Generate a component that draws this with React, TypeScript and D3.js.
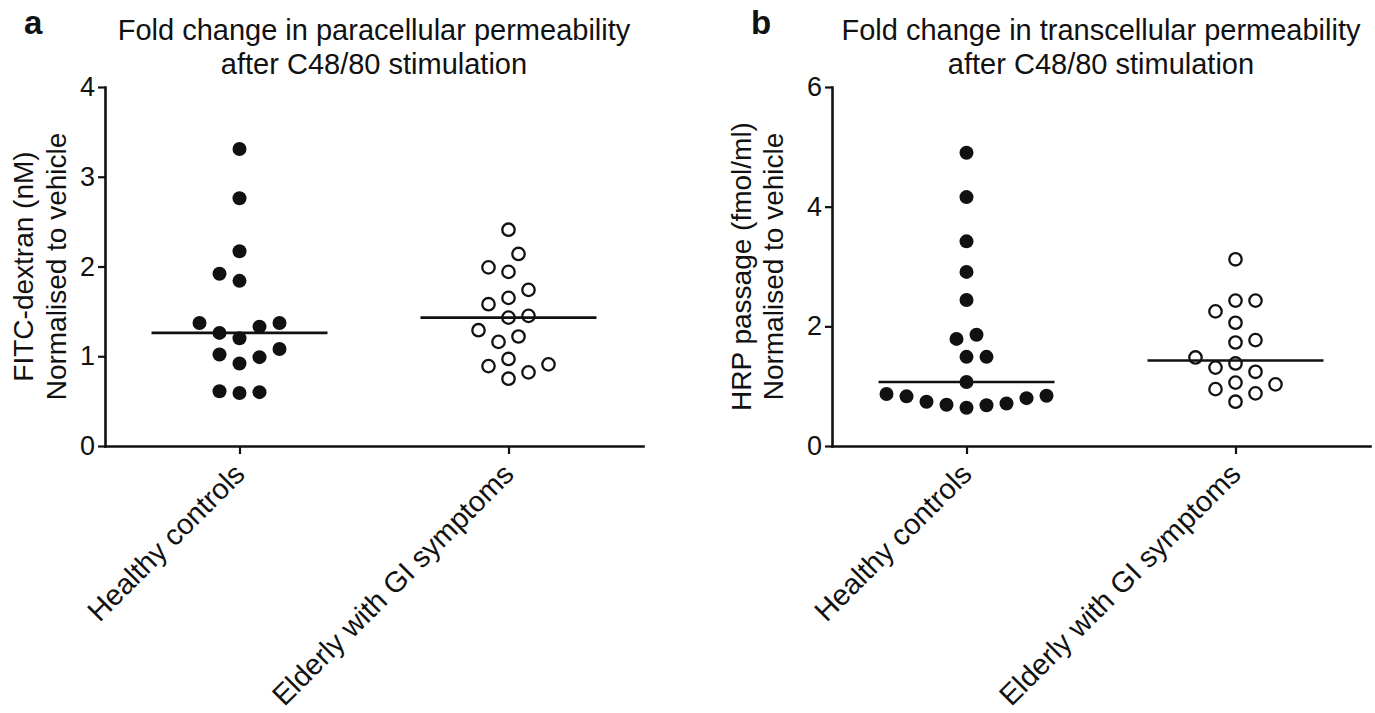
import { useRef, useEffect } from "react";
import * as d3 from "d3";

const GROUPS = ["Healthy controls", "Elderly with GI symptoms"];

// panel a: FITC-dextran, fold change vs vehicle
const PARA_HEALTHY = [3.31, 2.76, 2.17, 1.92, 1.84, 1.37, 1.33, 1.37, 1.26, 1.2, 1.08, 0.99, 0.92, 1.02, 0.61, 0.59, 0.6];
const PARA_ELDERLY = [2.41, 2.14, 1.99, 1.94, 1.74, 1.65, 1.58, 1.45, 1.43, 1.29, 1.22, 1.16, 0.97, 0.91, 0.89, 0.82, 0.75];
const PARA_TICKS = [0, 1, 2, 3, 4];

// panel b: HRP passage, fold change vs vehicle
const TRANS_HEALTHY = [4.9, 4.16, 3.42, 2.91, 2.44, 1.86, 1.79, 1.49, 1.49, 1.07, 0.87, 0.84, 0.83, 0.8, 0.74, 0.71, 0.69, 0.68, 0.64];
const TRANS_ELDERLY = [3.12, 2.43, 2.43, 2.25, 2.06, 1.77, 1.73, 1.48, 1.38, 1.31, 1.24, 1.06, 1.03, 0.95, 0.88, 0.74];
const TRANS_TICKS = [0, 2, 4, 6];

const FONT = "'Liberation Sans', Arial, Helvetica, sans-serif";

type Panel = {
  letter: string;
  title: string[];
  yLabel: string[];
  series: number[][];
  ticks: number[];
  left: number;
  right: number;
  labelX: number[];
};

const PANELS: Panel[] = [
  {
    letter: "a",
    title: ["Fold change in paracellular permeability", "after C48/80 stimulation"],
    yLabel: ["FITC-dextran (nM)", "Normalised to vehicle"],
    series: [PARA_HEALTHY, PARA_ELDERLY],
    ticks: PARA_TICKS,
    left: 105,
    right: 643,
    labelX: [33, 66],
  },
  {
    letter: "b",
    title: ["Fold change in transcellular permeability", "after C48/80 stimulation"],
    yLabel: ["HRP passage (fmol/ml)", "Normalised to vehicle"],
    series: [TRANS_HEALTHY, TRANS_ELDERLY],
    ticks: TRANS_TICKS,
    left: 832,
    right: 1370,
    labelX: [751, 783],
  },
];

// Prism-like column scatter: place each point at the nearest free slot
function swarm(values: number[], y: (v: number) => number, slot: number, dist: number) {
  const placed: { x: number; y: number }[] = [];
  const offs: number[] = new Array(values.length).fill(0);
  let balance = 0;
  const order = d3.range(values.length).sort((a, b) => values[a] - values[b]);
  for (const i of order) {
    const py = y(values[i]);
    for (let k = 0; k < 50; k++) {
      const cands = k === 0 ? [0] : balance > 0 ? [-k, k] : [k, -k];
      const hit = cands.find((c) => placed.every((p) => Math.hypot(p.x - c * slot, p.y - py) >= dist));
      if (hit !== undefined) {
        offs[i] = hit * slot;
        placed.push({ x: hit * slot, y: py });
        balance += hit;
        break;
      }
    }
  }
  return offs;
}

export default function App() {
  const svgRef = useRef<SVGSVGElement>(null);

  useEffect(() => {
    const W = 1375;
    const H = 713;
    const top = 87;
    const bottom = 446;

    const svg = d3.select(svgRef.current).attr("width", W).attr("height", H);
    svg.selectAll("*").remove();

    PANELS.forEach((p) => {
      const g = svg.append("g").attr("font-family", FONT).attr("fill", "#111");
      const y = d3.scaleLinear().domain([0, p.ticks[p.ticks.length - 1]]).range([bottom, top]);
      const x = d3.scalePoint<string>().domain(GROUPS).range([p.left, p.right]).padding(0.5);
      const cx = (p.left + p.right) / 2;

      // panel letter
      g.append("text")
        .attr("x", p.left - 81)
        .attr("y", 34)
        .attr("font-size", 33)
        .attr("font-weight", "bold")
        .text(p.letter);

      // title
      p.title.forEach((t, i) => {
        g.append("text")
          .attr("x", cx)
          .attr("y", 40 + i * 34)
          .attr("text-anchor", "middle")
          .attr("font-size", 29)
          .text(t);
      });

      // y label
      p.yLabel.forEach((t, i) => {
        g.append("text")
          .attr("transform", `translate(${p.labelX[i]},${(top + bottom) / 2}) rotate(-90)`)
          .attr("text-anchor", "middle")
          .attr("font-size", 28)
          .text(t);
      });

      // y axis
      g.append("g")
        .attr("transform", `translate(${p.left},0)`)
        .call(d3.axisLeft(y).tickValues(p.ticks).tickFormat(d3.format("d")).tickSize(7).tickSizeOuter(0).tickPadding(3))
        .call((a) => {
          a.select(".domain").attr("stroke", "#111").attr("stroke-width", 2.6).attr("stroke-linecap", "square");
          a.selectAll("line").attr("stroke", "#111").attr("stroke-width", 2.2);
          a.selectAll("text").attr("fill", "#111").attr("font-size", 27).attr("font-family", FONT);
        });

      // x axis
      g.append("g")
        .attr("transform", `translate(0,${bottom})`)
        .call(d3.axisBottom(x).tickSize(8).tickSizeOuter(0).tickFormat(() => ""))
        .call((a) => {
          a.select(".domain").attr("stroke", "#111").attr("stroke-width", 2.6).attr("stroke-linecap", "square");
          a.selectAll("line").attr("stroke", "#111").attr("stroke-width", 2.2);
        });

      GROUPS.forEach((name) => {
        g.append("text")
          .attr("transform", `translate(${(x(name) as number) + 7},${bottom + 30}) rotate(-45)`)
          .attr("text-anchor", "end")
          .attr("font-size", 29)
          .text(name);
      });

      // points + median
      p.series.forEach((vals, si) => {
        const gx = x(GROUPS[si]) as number;
        const offs = swarm(vals, y, 10, 18);
        const filled = si === 0;
        g.append("g")
          .selectAll("circle")
          .data(vals)
          .enter()
          .append("circle")
          .attr("cx", (_, i) => gx + offs[i])
          .attr("cy", (d) => y(d))
          .attr("r", filled ? 7 : 6.2)
          .attr("fill", filled ? "#111" : "#fff")
          .attr("stroke", "#111")
          .attr("stroke-width", filled ? 0 : 2.3);

        const med = d3.median(vals) as number;
        g.append("line")
          .attr("x1", gx - 88)
          .attr("x2", gx + 88)
          .attr("y1", y(med))
          .attr("y2", y(med))
          .attr("stroke", "#111")
          .attr("stroke-width", 2.6);
      });
    });
  }, []);

  return (
    <div style={{ position: "absolute", left: 0, top: 0, background: "#fff" }}>
      <svg ref={svgRef} style={{ display: "block" }} />
    </div>
  );
}
